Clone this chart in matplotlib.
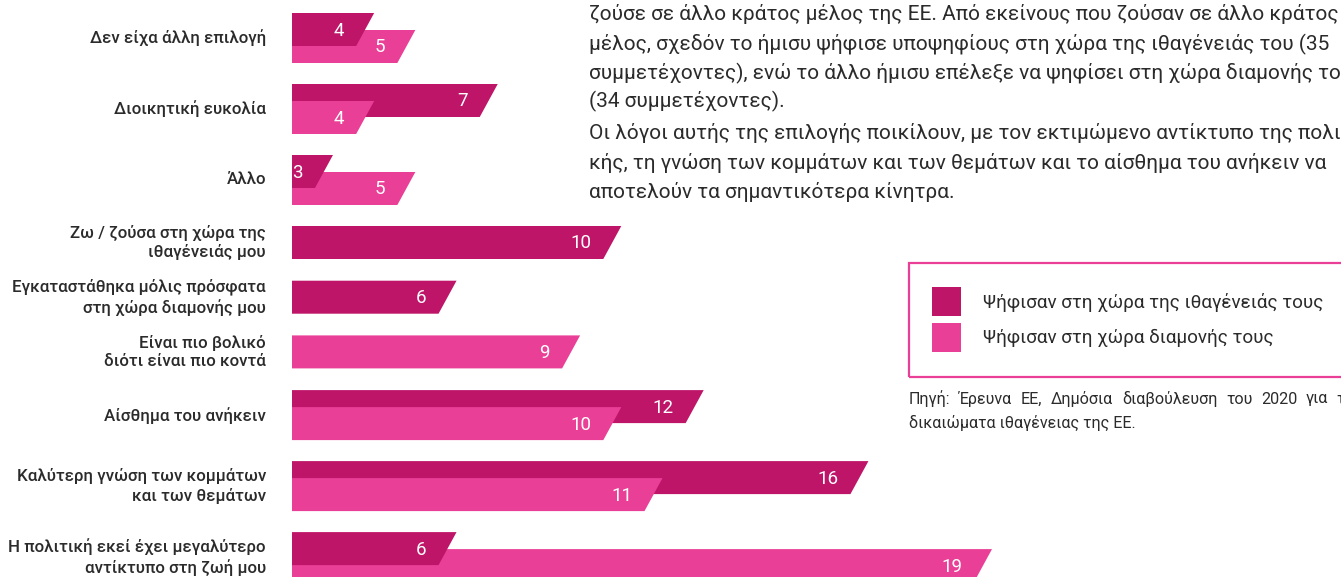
import matplotlib
matplotlib.use('Agg')
import matplotlib.pyplot as plt
from matplotlib.patches import Polygon, Rectangle
import matplotlib.transforms as mtransforms

# ---------------- data ----------------
categories = [
    "Δεν είχα άλλη επιλογή",
    "Διοικητική ευκολία",
    "Άλλο",
    "Ζω / ζούσα στη χώρα της\nιθαγένειάς μου",
    "Εγκαταστάθηκα μόλις πρόσφατα\nστη χώρα διαμονής μου",
    "Είναι πιο βολικό\nδιότι είναι πιο κοντά",
    "Αίσθημα του ανήκειν",
    "Καλύτερη γνώση των κομμάτων\nκαι των θεμάτων",
    "Η πολιτική εκεί έχει μεγαλύτερο\nαντίκτυπο στη ζωή μου",
]
home_values = [4, 7, 3, 10, 6, None, 12, 16, 6]
residence_values = [5, 4, 5, None, None, 9, 10, 11, 19]
legend_labels = ["Ψήφισαν στη χώρα της ιθαγένειάς τους",
                 "Ψήφισαν στη χώρα διαμονής τους"]
paragraph_lines = [
    "ζούσε σε άλλο κράτος μέλος της ΕΕ. Από εκείνους που ζούσαν σε άλλο κράτος",
    "μέλος, σχεδόν το ήμισυ ψήφισε υποψηφίους στη χώρα της ιθαγένειάς του (35",
    "συμμετέχοντες), ενώ το άλλο ήμισυ επέλεξε να ψηφίσει στη χώρα διαμονής τους",
    "(34 συμμετέχοντες).",
    "Οι λόγοι αυτής της επιλογής ποικίλουν, με τον εκτιμώμενο αντίκτυπο της πολιτι-",
    "κής, τη γνώση των κομμάτων και των θεμάτων και το αίσθημα του ανήκειν να",
    "αποτελούν τα σημαντικότερα κίνητρα.",
]
source_lines = [
    "Πηγή: Έρευνα ΕΕ, Δημόσια διαβούλευση του 2020 για τα",
    "δικαιώματα ιθαγένειας της ΕΕ.",
]

# ---------------- style ----------------
W, H = 1341, 577
DARK = '#BE1569'
PINK = '#EA3F96'
TXT = '#2b2b2b'
FONT = ['Roboto', 'DejaVu Sans']
plt.rcParams['font.family'] = FONT

fig = plt.figure(figsize=(W / 100, H / 100), dpi=100)
fig.patch.set_facecolor('white')
renderer = fig.canvas.get_renderer()

ppu = 41.19          # pixels per unit
x_zero = 200.4       # pixel position of value 0
ax = fig.add_axes([292 / W, 0, 1 - 292 / W, 1])
ax.set_xlim((292 - x_zero) / ppu, (W - x_zero) / ppu)
ax.set_ylim(H, 0)
ax.axis('off')

BAR_H = 33
OFF = 17
slant = 18 / ppu
lab_tr = mtransforms.offset_copy(ax.transData, fig=fig, x=-21, y=0, units='dots')


def draw_bar(v, top, color, z):
    pts = [(0, top), (v + slant / 2, top), (v - slant / 2, top + BAR_H), (0, top + BAR_H)]
    ax.add_patch(Polygon(pts, closed=True, facecolor=color, edgecolor='none',
                         zorder=z, clip_on=True))
    ax.text(v, top + BAR_H / 2 + 1, str(v), transform=lab_tr, ha='right',
            va='center', color='white', fontsize=13.5, zorder=10)


y = 13
for cat, h, r in zip(categories, home_values, residence_values):
    if h is not None and r is not None:
        zh, zr = (3, 2) if h < r else (2, 3)
        draw_bar(h, y, DARK, zh)
        draw_bar(r, y + OFF, PINK, zr)
        cy = y + (BAR_H + OFF) / 2
        step = 71
    else:
        if h is not None:
            draw_bar(h, y, DARK, 2)
        else:
            draw_bar(r, y, PINK, 2)
        cy = y + BAR_H / 2
        step = 54.7
    fig.text(266 / W, 1 - cy / H, cat, ha='right', va='center', color=TXT,
             fontsize=12.2, fontweight='medium', linespacing=1.28)
    y += step

# paragraph text
para_y = [14, 44, 73, 101, 133, 163, 192]
for t, py in zip(paragraph_lines, para_y):
    fig.text(589 / W, 1 - py / H, t, ha='left', va='center', color=TXT,
             fontsize=15.0, fontweight='normal')

# legend box
fig.add_artist(Rectangle((909 / W, 1 - 377 / H), 600 / W, 114 / H,
                         transform=fig.transFigure, fill=False,
                         edgecolor=PINK, linewidth=1.6))
for i, (lab, col) in enumerate(zip(legend_labels, [DARK, PINK])):
    top = 287 + i * 36
    fig.add_artist(Rectangle((932 / W, 1 - (top + 29) / H), 29 / W, 29 / H,
                             transform=fig.transFigure, facecolor=col,
                             edgecolor='none'))
    fig.text(983 / W, 1 - (top + 15) / H, lab, ha='left', va='center',
             color=TXT, fontsize=13.6, fontweight='normal')


# source text (first line justified, as in the reference)
def text_width(s, **kw):
    t = fig.text(0, 0, s, **kw)
    w = t.get_window_extent(renderer).width
    t.remove()
    return w


src_kw = dict(color=TXT, fontsize=11.6, fontweight='normal', va='center', ha='left')
space_w = text_width('a a', **src_kw) - text_width('aa', **src_kw)
x = 909.0
for word in source_lines[0].split(' '):
    fig.text(x / W, 1 - 399 / H, word, **src_kw)
    x += text_width(word, **src_kw) + space_w + 4.6
fig.text(909 / W, 1 - 423 / H, source_lines[1], **src_kw)

fig.savefig('out.png', dpi=100, facecolor='white')
